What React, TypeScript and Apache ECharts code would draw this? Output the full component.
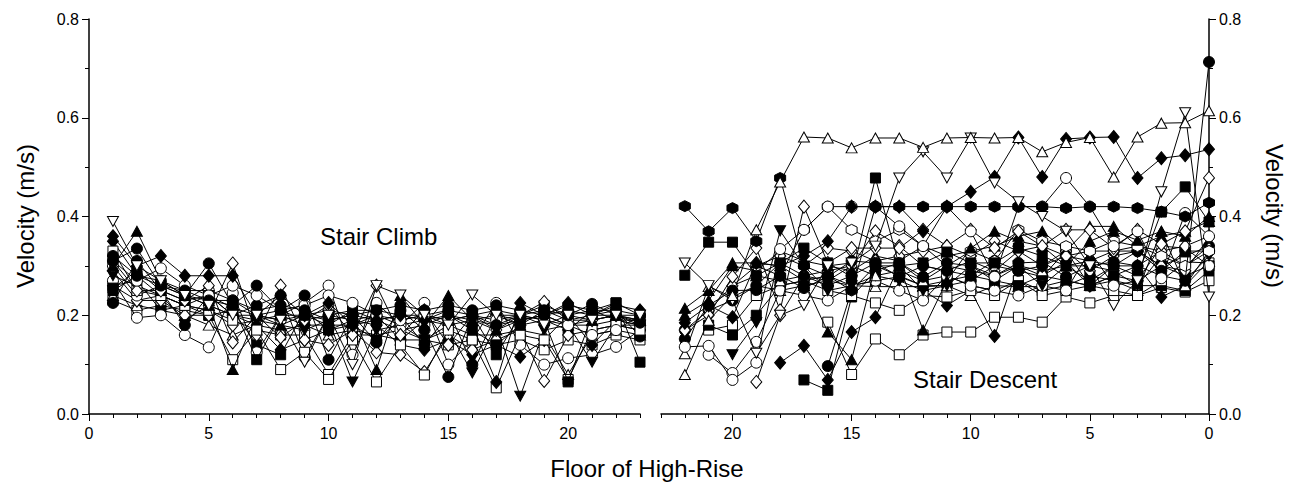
import React, { useEffect, useRef } from "react";
import * as echarts from "echarts";

// ---------- data ----------
const climbFloors = [1, 2, 3, 4, 5, 6, 7, 8, 9, 10, 11, 12, 13, 14, 15, 16, 17, 18, 19, 20, 21, 22, 23];
const descentFloors = [22, 21, 20, 19, 18, 17, 16, 15, 14, 13, 12, 11, 10, 9, 8, 7, 6, 5, 4, 3, 2, 1, 0];
const xMajorTicks = [0, 5, 10, 15, 20];

// Stair climb (floors 1..23)
const cOpenInvTri = [0.39, 0.3, 0.27, 0.24, 0.22, 0.2, 0.2, 0.19, 0.105, 0.2, 0.1, 0.26, 0.241, 0.2, 0.18, 0.241, 0.2, 0.2, 0.18, 0.2, 0.19, 0.2, 0.2];
const cFilledDia = [0.36, 0.3, 0.32, 0.28, 0.28, 0.28, 0.2, 0.24, 0.2, 0.225, 0.18, 0.19, 0.2, 0.19, 0.2, 0.18, 0.065, 0.225, 0.2, 0.225, 0.2, 0.22, 0.21];
const cFilledTri = [0.3, 0.37, 0.27, 0.24, 0.22, 0.09, 0.2, 0.18, 0.2, 0.19, 0.2, 0.09, 0.24, 0.18, 0.24, 0.19, 0.17, 0.19, 0.2, 0.18, 0.19, 0.2, 0.19];
const cFilledCirc = [0.31, 0.335, 0.26, 0.24, 0.305, 0.22, 0.26, 0.21, 0.24, 0.11, 0.2, 0.145, 0.21, 0.17, 0.075, 0.2, 0.18, 0.2, 0.21, 0.2, 0.223, 0.2, 0.185];
const cOpenSq = [0.33, 0.25, 0.24, 0.22, 0.21, 0.19, 0.17, 0.09, 0.125, 0.07, 0.15, 0.065, 0.14, 0.079, 0.17, 0.15, 0.053, 0.16, 0.15, 0.07, 0.17, 0.18, 0.17];
const cOpenDia = [0.29, 0.23, 0.23, 0.2, 0.2, 0.305, 0.16, 0.26, 0.15, 0.14, 0.17, 0.125, 0.12, 0.085, 0.16, 0.13, 0.15, 0.17, 0.067, 0.16, 0.17, 0.18, 0.17];
const cOpenCirc = [0.27, 0.195, 0.2, 0.16, 0.135, 0.245, 0.125, 0.2, 0.225, 0.26, 0.12, 0.225, 0.18, 0.225, 0.1, 0.15, 0.225, 0.14, 0.1, 0.113, 0.12, 0.136, 0.17];
const cFilledSq = [0.25, 0.28, 0.26, 0.24, 0.23, 0.22, 0.11, 0.2, 0.2, 0.18, 0.21, 0.21, 0.2, 0.14, 0.2, 0.17, 0.14, 0.18, 0.19, 0.065, 0.2, 0.225, 0.105];
const cOpenTri = [0.24, 0.22, 0.21, 0.2, 0.18, 0.16, 0.18, 0.17, 0.18, 0.16, 0.17, 0.16, 0.17, 0.15, 0.18, 0.16, 0.16, 0.17, 0.16, 0.08, 0.16, 0.17, 0.16];
const cFilledCirc2 = [0.225, 0.31, 0.25, 0.18, 0.24, 0.2, 0.22, 0.24, 0.115, 0.2, 0.19, 0.2, 0.15, 0.19, 0.21, 0.1, 0.2, 0.19, 0.2, 0.21, 0.2, 0.21, 0.157];
const cFilledInvTri = [0.28, 0.26, 0.24, 0.22, 0.24, 0.2, 0.19, 0.18, 0.17, 0.19, 0.065, 0.17, 0.18, 0.15, 0.17, 0.083, 0.18, 0.036, 0.17, 0.18, 0.105, 0.18, 0.18];
const cOpenCirc2 = [0.31, 0.27, 0.295, 0.26, 0.24, 0.26, 0.24, 0.21, 0.22, 0.24, 0.225, 0.2, 0.19, 0.2, 0.19, 0.2, 0.19, 0.2, 0.19, 0.18, 0.16, 0.17, 0.2];
const cFilledSq2 = [0.26, 0.27, 0.21, 0.22, 0.2, 0.21, 0.14, 0.12, 0.21, 0.17, 0.18, 0.15, 0.19, 0.2, 0.21, 0.2, 0.12, 0.2, 0.19, 0.17, 0.21, 0.19, 0.19];
const cOpenDia2 = [0.31, 0.25, 0.25, 0.23, 0.26, 0.145, 0.2, 0.155, 0.19, 0.22, 0.16, 0.26, 0.16, 0.21, 0.14, 0.2, 0.17, 0.2, 0.227, 0.19, 0.19, 0.2, 0.19];
const cOpenSq2 = [0.23, 0.21, 0.22, 0.21, 0.2, 0.11, 0.17, 0.16, 0.16, 0.08, 0.16, 0.16, 0.15, 0.15, 0.14, 0.15, 0.14, 0.15, 0.13, 0.15, 0.14, 0.16, 0.15];
const cFilledDia2 = [0.35, 0.28, 0.24, 0.19, 0.22, 0.2, 0.18, 0.13, 0.15, 0.17, 0.19, 0.18, 0.14, 0.13, 0.15, 0.12, 0.14, 0.116, 0.15, 0.2, 0.14, 0.19, 0.18];
const cFilledSq3 = [0.255, 0.29, 0.25, 0.23, 0.24, 0.215, 0.2, 0.21, 0.19, 0.2, 0.21, 0.19, 0.2, 0.2, 0.19, 0.2, 0.21, 0.2, 0.22, 0.2, 0.21, 0.225, 0.2];
const cOpenCirc3 = [0.3, 0.24, 0.26, 0.25, 0.25, 0.23, 0.2, 0.19, 0.2, 0.21, 0.2, 0.19, 0.17, 0.18, 0.2, 0.19, 0.2, 0.18, 0.21, 0.19, 0.2, 0.2, 0.18];
const cFilledCirc3 = [0.32, 0.28, 0.27, 0.25, 0.23, 0.23, 0.21, 0.22, 0.21, 0.19, 0.2, 0.21, 0.22, 0.21, 0.22, 0.21, 0.22, 0.21, 0.2, 0.22, 0.21, 0.21, 0.2];
const cOpenDia3 = [0.26, 0.23, 0.24, 0.22, 0.21, 0.18, 0.19, 0.2, 0.18, 0.18, 0.18, 0.2, 0.18, 0.19, 0.18, 0.19, 0.18, 0.19, 0.2, 0.18, 0.18, 0.19, 0.18];

// Stair descent (floors 22..0)
const dOpenTri = [0.08, 0.19, 0.24, 0.373, 0.47, 0.561, 0.559, 0.539, 0.559, 0.559, 0.54, 0.559, 0.56, 0.559, 0.56, 0.531, 0.55, 0.56, 0.48, 0.561, 0.589, 0.59, 0.614];
const dOpenInvTri = [0.306, 0.26, 0.23, 0.123, 0.2, 0.22, 0.3, 0.306, 0.34, 0.478, 0.531, 0.478, 0.559, 0.468, 0.43, 0.4, 0.37, 0.3, 0.22, 0.27, 0.45, 0.61, 0.237];
const dFilledHex = [0.421, 0.37, 0.417, 0.35, 0.478, 0.3, 0.28, 0.25, 0.42, 0.42, 0.42, 0.42, 0.42, 0.42, 0.42, 0.42, 0.417, 0.42, 0.42, 0.417, 0.41, 0.4, 0.428];
const dFilledSq = [0.281, 0.348, 0.348, 0.28, 0.306, 0.336, 0.306, 0.278, 0.478, 0.3, 0.306, 0.328, 0.306, 0.306, 0.336, 0.32, 0.3, 0.27, 0.3, 0.28, 0.409, 0.46, 0.389];
const dFilledDia = [0.185, 0.22, 0.196, 0.306, 0.3, 0.32, 0.35, 0.42, 0.42, 0.42, 0.37, 0.42, 0.45, 0.48, 0.56, 0.48, 0.557, 0.56, 0.561, 0.478, 0.518, 0.524, 0.536];
const dFilledCirc = [0.152, 0.22, 0.25, 0.251, 0.28, 0.255, 0.278, 0.31, 0.306, 0.306, 0.278, 0.306, 0.3, 0.28, 0.306, 0.308, 0.278, 0.3, 0.308, 0.3, 0.28, 0.27, 0.713];
const dOpenDia = [0.17, 0.2, 0.278, 0.336, 0.21, 0.42, 0.306, 0.336, 0.336, 0.336, 0.373, 0.34, 0.373, 0.336, 0.37, 0.34, 0.373, 0.373, 0.336, 0.373, 0.344, 0.37, 0.478];
const dOpenCirc = [0.136, 0.138, 0.069, 0.104, 0.334, 0.373, 0.42, 0.42, 0.42, 0.38, 0.34, 0.42, 0.37, 0.278, 0.42, 0.42, 0.478, 0.42, 0.34, 0.37, 0.275, 0.407, 0.36];
const dFilledTri = [0.214, 0.25, 0.306, 0.306, 0.3, 0.27, 0.166, 0.11, 0.3, 0.3, 0.17, 0.27, 0.336, 0.37, 0.35, 0.34, 0.3, 0.35, 0.37, 0.352, 0.37, 0.36, 0.4];
const dOpenSqLow = [null, null, null, null, null, null, 0.186, 0.08, 0.152, 0.12, 0.16, 0.166, 0.166, 0.196, 0.196, 0.186, 0.237, 0.225, 0.24, 0.24, 0.256, 0.247, 0.27];
const dFilledDiaLow = [null, null, null, null, 0.104, 0.138, 0.069, 0.166, 0.196, 0.3, 0.25, 0.22, 0.25, 0.158, 0.3, 0.28, 0.308, 0.26, 0.28, 0.3, 0.237, 0.26, 0.33];
const dFilledInvTri = [null, null, 0.12, 0.185, 0.371, 0.3, 0.25, 0.26, 0.28, 0.27, 0.25, 0.26, 0.3, 0.27, 0.3, 0.26, 0.3, 0.3, 0.29, 0.26, 0.32, 0.27, 0.32];
const dFilledSqLow = [null, null, null, null, null, 0.069, 0.048, 0.237, 0.29, 0.306, 0.27, 0.28, 0.26, 0.25, 0.27, 0.25, 0.26, 0.28, 0.27, 0.26, 0.26, 0.25, 0.29];
const dFilledCircLow = [null, null, null, null, null, null, 0.097, 0.25, 0.3, 0.28, 0.26, 0.26, 0.27, 0.3, 0.29, 0.278, 0.33, 0.26, 0.3, 0.33, 0.3, 0.32, 0.34];
const dOpenTri2 = [0.122, 0.258, 0.237, 0.26, 0.25, 0.26, 0.27, 0.26, 0.258, 0.258, 0.258, 0.26, 0.24, 0.26, 0.258, 0.258, 0.27, 0.26, 0.27, 0.25, 0.37, 0.26, 0.31];
const dOpenCirc2 = [null, 0.12, 0.083, 0.146, 0.25, 0.24, 0.23, 0.26, 0.27, 0.25, 0.23, 0.28, 0.26, 0.25, 0.24, 0.26, 0.25, 0.33, 0.26, 0.27, 0.34, 0.336, 0.3];
const dOpenSq2 = [null, 0.17, 0.18, 0.24, 0.26, 0.27, 0.25, 0.24, 0.225, 0.21, 0.24, 0.237, 0.25, 0.24, 0.27, 0.24, 0.25, 0.26, 0.25, 0.24, 0.27, 0.308, 0.306];
const dOpenDia2 = [null, null, null, 0.065, 0.2, 0.28, 0.29, 0.3, 0.37, 0.34, 0.3, 0.29, 0.31, 0.29, 0.33, 0.3, 0.33, 0.29, 0.32, 0.33, 0.3, 0.29, 0.358];
const dOpenHex = [null, null, null, 0.3, 0.28, 0.373, 0.42, 0.373, 0.35, 0.373, 0.34, 0.32, 0.33, 0.31, 0.373, 0.35, 0.34, 0.33, 0.35, 0.34, 0.32, 0.3, 0.33];
const dFilledTri2 = [0.2, 0.23, 0.3, 0.29, 0.33, 0.31, 0.3, 0.29, 0.32, 0.31, 0.34, 0.3, 0.33, 0.34, 0.36, 0.37, 0.33, 0.38, 0.38, 0.34, 0.36, 0.37, 0.39];
const dFilledCirc3 = [0.17, 0.21, 0.23, 0.26, 0.306, 0.28, 0.26, 0.28, 0.306, 0.278, 0.3, 0.29, 0.28, 0.31, 0.29, 0.3, 0.32, 0.31, 0.33, 0.33, 0.29, 0.33, 0.33];
const dOpenDia3 = [null, 0.21, 0.26, 0.3, 0.32, 0.3, 0.336, 0.33, 0.31, 0.32, 0.33, 0.34, 0.32, 0.35, 0.33, 0.34, 0.32, 0.33, 0.33, 0.34, 0.33, 0.34, 0.36];
const dFilledSq3 = [null, 0.18, 0.16, 0.2, 0.26, 0.27, 0.28, 0.26, 0.27, 0.278, 0.26, 0.27, 0.28, 0.27, 0.26, 0.28, 0.27, 0.26, 0.28, 0.27, 0.3, 0.28, 0.3];
const dOpenTri3 = [null, null, 0.26, 0.28, 0.27, 0.28, 0.27, 0.3, 0.28, 0.29, 0.27, 0.3, 0.29, 0.28, 0.3, 0.29, 0.3, 0.31, 0.3, 0.3, 0.33, 0.3, 0.34];

// ---------- marker shapes ----------
const INV_TRI = "path://M0,0L10,0L5,9Z";
const HEX = "path://M5,0L9.33,2.5L9.33,7.5L5,10L0.67,7.5L0.67,2.5Z";

type Mk = "circ" | "sq" | "tri" | "inv" | "dia" | "hex";
const symOf: Record<Mk, any> = { circ: "circle", sq: "rect", tri: "triangle", inv: INV_TRI, dia: "diamond", hex: HEX };
const sizeOf: Record<Mk, any> = { circ: 11, sq: 10, tri: [11, 10], inv: [11, 10], dia: [11, 13], hex: 11 };

const climbDefs: [number[], Mk, boolean][] = [
  [cOpenSq2, "sq", false],
  [cOpenTri, "tri", false],
  [cOpenDia3, "dia", false],
  [cFilledSq2, "sq", true],
  [cOpenCirc, "circ", false],
  [cFilledDia2, "dia", true],
  [cOpenDia, "dia", false],
  [cFilledInvTri, "inv", true],
  [cFilledCirc2, "circ", true],
  [cOpenCirc3, "circ", false],
  [cOpenSq, "sq", false],
  [cFilledSq, "sq", true],
  [cFilledSq3, "sq", true],
  [cOpenDia2, "dia", false],
  [cFilledTri, "tri", true],
  [cOpenCirc2, "circ", false],
  [cFilledCirc3, "circ", true],
  [cFilledCirc, "circ", true],
  [cFilledDia, "dia", true],
  [cOpenInvTri, "inv", false],
];

const descentDefs: [(number | null)[], Mk, boolean][] = [
  [dOpenSqLow, "sq", false],
  [dFilledDiaLow, "dia", true],
  [dFilledSqLow, "sq", true],
  [dFilledCircLow, "circ", true],
  [dOpenTri2, "tri", false],
  [dOpenSq2, "sq", false],
  [dFilledSq3, "sq", true],
  [dOpenCirc2, "circ", false],
  [dFilledInvTri, "inv", true],
  [dOpenTri3, "tri", false],
  [dOpenDia2, "dia", false],
  [dFilledCirc3, "circ", true],
  [dFilledTri2, "tri", true],
  [dOpenDia3, "dia", false],
  [dOpenHex, "hex", false],
  [dFilledTri, "tri", true],
  [dFilledCirc, "circ", true],
  [dOpenDia, "dia", false],
  [dFilledSq, "sq", true],
  [dOpenCirc, "circ", false],
  [dFilledHex, "hex", true],
  [dFilledDia, "dia", true],
  [dOpenInvTri, "inv", false],
  [dOpenTri, "tri", false],
];

const FONT = "'Liberation Sans', Arial, Helvetica, sans-serif";

export default function App() {
  const ref = useRef<HTMLDivElement>(null);
  useEffect(() => {
    if (!ref.current) return;
    const chart = echarts.init(ref.current, undefined, { renderer: "svg" });

    const axisLine = { show: true, lineStyle: { color: "#000", width: 1.5 } };
    const labelStyle = { color: "#000", fontSize: 16, fontFamily: FONT };

    const makeX = (gridIndex: number, inverse: boolean) => [
      {
        type: "value", gridIndex, min: 0, max: 23, interval: 1, inverse, position: "bottom",
        axisLine, axisTick: { show: true, length: 4, lineStyle: { color: "#000", width: 1 } },
        axisLabel: { show: false }, splitLine: { show: false },
      },
      {
        type: "value", gridIndex, min: 0, max: 23, interval: 5, inverse, position: "bottom",
        axisLine: { show: false },
        axisTick: { show: true, length: 7, customValues: xMajorTicks, lineStyle: { color: "#000", width: 1 } },
        axisLabel: { show: true, customValues: xMajorTicks, margin: 11, ...labelStyle },
        splitLine: { show: false },
      },
    ];

    const makeY = (gridIndex: number, position: string) => ({
      type: "value", gridIndex, position, min: 0, max: 0.8, interval: 0.2,
      axisLine, axisTick: { show: true, length: 7, lineStyle: { color: "#000", width: 1 } },
      minorTick: { show: true, splitNumber: 2, length: 4, lineStyle: { color: "#000", width: 1 } },
      axisLabel: { show: true, margin: 10, formatter: (v: number) => v.toFixed(1), ...labelStyle },
      splitLine: { show: false },
    });

    const mkSeries = (vals: (number | null)[], floors: number[], mk: Mk, filled: boolean, xi: number, yi: number, z: number) => ({
      type: "line",
      xAxisIndex: xi,
      yAxisIndex: yi,
      data: floors.map((f, i) => [f, vals[i]]),
      symbol: symOf[mk],
      symbolSize: sizeOf[mk],
      showAllSymbol: true,
      connectNulls: false,
      lineStyle: { color: "#000", width: 1 },
      itemStyle: { color: filled ? "#000" : "#fff", borderColor: "#000", borderWidth: 1 },
      emphasis: { disabled: true },
      z,
    });

    const series: any[] = [];
    climbDefs.forEach(([v, mk, f], i) => series.push(mkSeries(v, climbFloors, mk, f, 0, 0, 2 + i * 0.01)));
    descentDefs.forEach(([v, mk, f], i) => series.push(mkSeries(v, descentFloors, mk, f, 2, 1, 2 + i * 0.01)));

    chart.setOption({
      animation: false,
      backgroundColor: "#fff",
      grid: [
        { left: 89, top: 19, width: 551, height: 395 },
        { left: 661, top: 19, width: 548, height: 395 },
      ],
      xAxis: [...makeX(0, false), ...makeX(1, true)],
      yAxis: [makeY(0, "left"), makeY(1, "right")],
      series,
      graphic: [
        { type: "text", x: 320, y: 236, style: { text: "Stair Climb", fill: "#000", fontSize: 24, fontFamily: FONT, textVerticalAlign: "middle" } },
        { type: "text", x: 913, y: 379, style: { text: "Stair Descent", fill: "#000", fontSize: 24, fontFamily: FONT, textVerticalAlign: "middle" } },
        { type: "text", x: 647, y: 468, style: { text: "Floor of High-Rise", fill: "#000", fontSize: 24, fontFamily: FONT, textAlign: "center", textVerticalAlign: "middle" } },
        { type: "text", x: 25, y: 216, rotation: Math.PI / 2, style: { text: "Velocity (m/s)", fill: "#000", fontSize: 24, fontFamily: FONT, textAlign: "center", textVerticalAlign: "middle" } },
        { type: "text", x: 1274, y: 216, rotation: -Math.PI / 2, style: { text: "Velocity (m/s)", fill: "#000", fontSize: 24, fontFamily: FONT, textAlign: "center", textVerticalAlign: "middle" } },
      ],
    });

    return () => chart.dispose();
  }, []);

  return <div ref={ref} style={{ position: "absolute", left: 0, top: 0, width: 1294, height: 484 }} />;
}
